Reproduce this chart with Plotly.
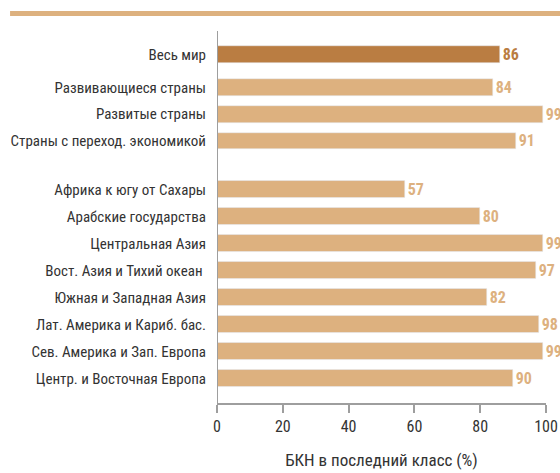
import plotly.graph_objects as go
from plotly.subplots import make_subplots

# three groups of regions, shown as separate blocks
world_labels = ["Весь мир"]
world_values = [86]

dev_labels = ["Развивающиеся страны", "Развитые страны", "Страны с переход. экономикой"]
dev_values = [84, 99, 91]

region_labels = [
    "Африка к югу от Сахары",
    "Арабские государства",
    "Центральная Азия",
    "Вост. Азия и Тихий океан ",
    "Южная и Западная Азия",
    "Лат. Америка и Кариб. бас.",
    "Сев. Америка и Зап. Европа",
    "Центр. и Восточная Европа",
]
region_values = [57, 80, 99, 97, 82, 98, 99, 90]

x_ticks = [0, 20, 40, 60, 80, 100]

DARK = "#BA7D42"
LIGHT = "#DDB17F"
FONT = "Liberation Sans Narrow, Roboto Condensed, Roboto, sans-serif"

fig = make_subplots(rows=3, cols=1, shared_xaxes=True)

groups = [
    (world_labels, world_values, DARK, 1),
    (dev_labels, dev_values, LIGHT, 2),
    (region_labels, region_values, LIGHT, 3),
]
for labels, values, color, row in groups:
    fig.add_trace(
        go.Bar(
            x=values,
            y=labels,
            orientation="h",
            marker_color=color,
            width=0.63,
            text=values,
            textposition="outside",
            constraintext="none",
            textfont=dict(family=FONT, size=16, color=color, weight="bold"),
            cliponaxis=False,
            showlegend=False,
        ),
        row=row,
        col=1,
    )

fig.update_layout(
    width=560,
    height=473,
    margin=dict(l=217, r=14, t=31, b=69, autoexpand=False),
    paper_bgcolor="white",
    plot_bgcolor="white",
    font=dict(family=FONT, size=15, color="#333333"),
    bargap=0,
    # domains keep a 27px slot for every bar
    yaxis=dict(domain=[0.9008, 0.9732]),
    yaxis2=dict(domain=[0.6694, 0.8848]),
    yaxis3=dict(domain=[0.0327, 0.6118]),
    xaxis3=dict(anchor="free", position=0),
    shapes=[
        dict(type="line", xref="x", yref="paper", x0=0, x1=0, y0=0, y1=1,
             line=dict(color="#9E9E9E", width=2)),
        dict(type="line", xref="paper", yref="paper", x0=-0.629, x1=1.05,
             y0=1.047, y1=1.047, line=dict(color=LIGHT, width=5)),
    ],
)

fig.update_yaxes(autorange="reversed", showgrid=False, showline=False, ticks="",
                 automargin=False, ticklabelstandoff=10,
                 tickfont=dict(size=15, color="#333333"))
fig.update_xaxes(range=[0, 100], showgrid=False, zeroline=False, automargin=False)
fig.update_xaxes(showticklabels=False, showline=False, row=1, col=1)
fig.update_xaxes(showticklabels=False, showline=False, row=2, col=1)
fig.update_xaxes(
    row=3, col=1,
    showline=True, linecolor="#9E9E9E", linewidth=2,
    ticks="outside", ticklen=8, tickcolor="#9E9E9E", tickwidth=2,
    tickvals=x_ticks, tickfont=dict(size=16, color="#333333"),
    title=dict(text="БКН в последний класс (%)", font=dict(size=17, color="#333333"), standoff=18),
)

# drop the default page margin so the figure fills the window exactly
fig.write_html(
    "out.html",
    config={"displayModeBar": False},
    post_script="document.body.style.margin = '0';",
)
